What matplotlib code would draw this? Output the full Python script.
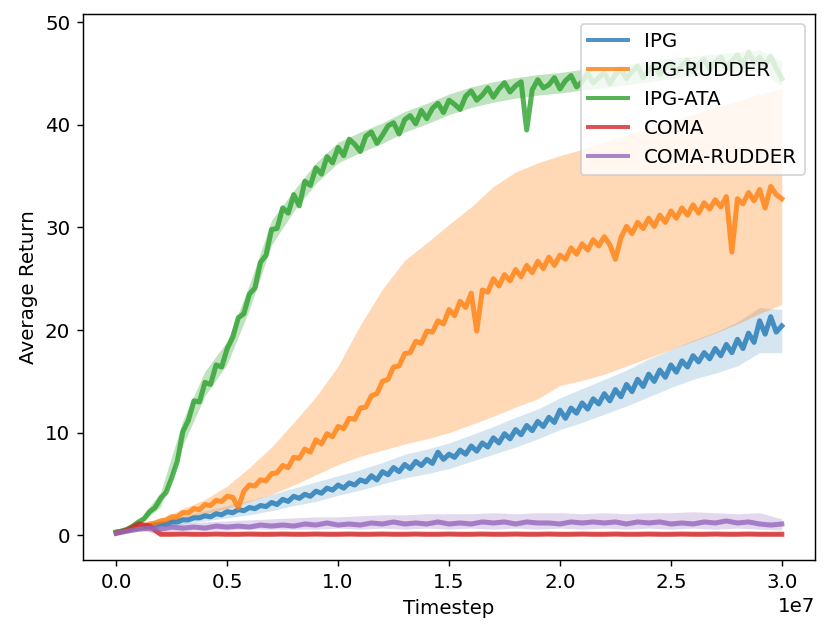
import numpy as np
import matplotlib
matplotlib.use('Agg')
import matplotlib.pyplot as plt

plt.rcParams['font.size'] = 11

# timestep grid is 0 .. 3e7, each series evenly logged over that span
t_max = 3e7

ipg = [0.3, 0.4, 0.5, 0.6, 0.7, 0.8, 0.9, 1.0, 1.1, 1.1,
       1.3, 1.3, 1.5, 1.5, 1.7, 1.7, 1.9, 1.8, 2.1, 2.0,
       2.3, 2.2, 2.5, 2.4, 2.7, 2.6, 2.9, 2.8, 3.2, 3.0,
       3.5, 3.3, 3.8, 3.6, 4.0, 3.8, 4.3, 4.1, 4.6, 4.4,
       4.9, 4.6, 5.1, 4.9, 5.4, 5.2, 5.8, 5.4, 6.2, 5.9,
       6.6, 6.2, 6.9, 6.5, 7.2, 6.8, 7.4, 7.0, 8.1, 7.4,
       7.9, 7.6, 8.3, 7.9, 8.7, 8.2, 9.0, 8.6, 9.5, 9.0,
       9.9, 9.4, 10.3, 9.8, 10.7, 10.2, 11.1, 10.6, 11.5, 11.0,
       12.2, 11.4, 12.4, 11.9, 12.9, 12.3, 13.3, 12.8, 13.8, 13.1,
       14.2, 13.5, 14.7, 14.0, 15.2, 14.5, 15.7, 15.0, 16.1, 15.4,
       16.6, 15.9, 17.0, 16.4, 17.5, 16.9, 17.8, 17.2, 18.2, 17.5,
       18.6, 17.8, 19.1, 18.2, 19.7, 18.8, 20.9, 19.6, 21.3, 19.8,
       20.4]

ipg_rudder = [0.3, 0.4, 0.5, 0.7, 0.8, 0.9, 1.1, 1.2, 1.4, 1.5,
              1.8, 1.8, 2.2, 2.2, 2.6, 2.5, 3.0, 2.9, 3.4, 3.3,
              3.8, 3.7, 2.7, 4.3, 4.9, 4.8, 5.4, 5.3, 6.0, 6.1,
              6.8, 6.6, 7.6, 7.5, 8.4, 8.1, 9.3, 8.9, 9.9, 9.6,
              10.6, 10.4, 11.4, 11.3, 12.4, 12.5, 13.6, 13.8, 15.0, 15.2,
              16.4, 16.5, 17.7, 17.8, 18.9, 18.7, 19.9, 19.8, 20.9, 20.6,
              22.0, 21.4, 22.8, 22.2, 23.6, 19.9, 23.9, 23.7, 25.0, 24.3,
              25.4, 24.8, 25.9, 25.2, 26.3, 25.6, 26.7, 26.0, 27.1, 26.3,
              27.3, 26.9, 28.0, 27.4, 28.4, 27.8, 28.8, 28.2, 29.1, 28.3,
              26.9, 29.0, 30.1, 29.4, 30.5, 29.9, 30.9, 30.1, 31.2, 30.5,
              31.6, 30.9, 31.9, 31.2, 32.2, 31.4, 32.4, 31.8, 32.7, 32.0,
              33.0, 27.6, 32.8, 32.3, 33.4, 32.6, 33.7, 31.9, 34.0, 33.2,
              32.8]

ipg_ata = [0.3, 0.4, 0.6, 0.9, 1.3, 1.6, 2.3, 2.7, 3.6, 4.2,
           5.6, 7.2, 10.1, 11.2, 13.1, 13.0, 14.9, 14.7, 16.6, 16.4,
           18.2, 19.3, 21.2, 21.6, 23.5, 24.1, 26.6, 27.3, 29.8, 29.9,
           31.9, 31.4, 33.2, 32.1, 34.5, 34.1, 35.8, 35.2, 36.9, 36.3,
           37.8, 37.0, 38.6, 38.1, 37.4, 38.9, 39.3, 38.2, 39.0, 39.9,
           40.2, 39.1, 40.5, 40.9, 40.1, 41.4, 40.6, 41.6, 42.1, 41.2,
           42.4, 42.0, 41.5, 42.8, 43.3, 42.4, 42.9, 43.6, 42.7, 43.5,
           44.1, 43.2, 43.8, 44.2, 39.5, 43.4, 44.4, 43.6, 43.9, 44.6,
           43.5, 44.3, 44.8, 43.7, 44.2, 45.0, 44.1, 44.6, 45.1, 44.0,
           44.9, 45.4, 44.5, 45.2, 45.7, 44.6, 45.3, 45.9, 44.9, 45.6,
           46.0, 45.1, 45.8, 46.3, 45.2, 45.9, 46.4, 45.4, 46.1, 46.6,
           45.5, 46.2, 46.8, 45.7, 47.1, 46.0, 46.6, 45.8, 46.7, 45.5,
           44.5]

coma = [0.2, 0.5, 1.1, 0.9, 0.1, 0.1, 0.12, 0.1, 0.1, 0.12,
        0.1, 0.1, 0.12, 0.1, 0.1, 0.12, 0.1, 0.1, 0.12, 0.1,
        0.1, 0.12, 0.1, 0.1, 0.12, 0.1, 0.1, 0.12, 0.1, 0.1,
        0.12, 0.1, 0.1, 0.12, 0.1, 0.1, 0.12, 0.1, 0.1, 0.12,
        0.1, 0.1, 0.12, 0.1, 0.1, 0.12, 0.1, 0.1, 0.12, 0.1,
        0.1, 0.12, 0.1, 0.1, 0.12, 0.1, 0.1, 0.12, 0.1, 0.1,
        0.1]

coma_rudder = [0.2, 0.4, 0.6, 0.7, 0.6, 0.8, 0.7, 0.8, 0.7, 0.9,
               0.8, 0.9, 0.8, 1.0, 0.9, 1.0, 0.9, 1.1, 1.0, 1.2,
               1.0, 1.1, 1.0, 1.2, 1.1, 1.3, 1.1, 1.2, 1.1, 1.3,
               1.1, 1.2, 1.1, 1.3, 1.2, 1.3, 1.1, 1.3, 1.2, 1.2,
               1.1, 1.3, 1.2, 1.3, 1.2, 1.3, 1.1, 1.3, 1.2, 1.3,
               1.1, 1.2, 1.1, 1.3, 1.2, 1.4, 1.2, 1.3, 1.1, 1.0,
               1.1]

# spread across seeds, logged every 1e6 steps
ipg_lo = [0.2, 0.5, 0.8, 1.1, 1.4, 1.7, 2.0, 2.4, 2.9, 3.3, 3.9, 4.4, 5.0, 5.6, 6.0, 6.5,
          7.2, 7.9, 8.6, 9.4, 10.3, 11.0, 11.8, 12.6, 13.5, 14.4, 15.2, 15.8, 16.5, 17.8, 17.8]
ipg_hi = [0.4, 0.9, 1.4, 1.9, 2.4, 2.9, 3.4, 4.0, 4.6, 5.2, 5.8, 6.4, 7.1, 7.9, 8.4, 9.0,
          9.8, 10.6, 11.5, 12.3, 13.4, 14.3, 15.2, 16.1, 17.2, 18.1, 19.0, 19.8, 20.8, 22.2, 22.0]
rudder_lo = [0.2, 0.6, 1.0, 1.6, 2.1, 2.6, 3.3, 4.0, 4.9, 5.9, 6.9, 7.7, 8.3, 8.9, 9.4, 10.0,
             10.8, 11.6, 12.5, 13.3, 14.6, 15.1, 15.7, 16.5, 17.3, 18.1, 18.9, 19.7, 20.6, 21.6, 22.5]
rudder_hi = [0.4, 1.0, 1.6, 2.6, 3.5, 4.8, 6.6, 8.6, 11.0, 13.5, 16.5, 20.5, 24.0, 26.8, 28.5, 30.3,
             32.0, 34.0, 35.4, 36.3, 37.0, 37.6, 38.3, 39.0, 39.7, 40.4, 41.0, 41.7, 42.3, 43.0, 43.5]
ata_lo = [0.2, 1.0, 2.8, 8.8, 13.6, 16.7, 22.0, 28.3, 31.6, 34.3, 36.3, 37.3, 38.2, 39.3, 40.1, 41.0,
          41.7, 42.2, 42.6, 42.9, 43.1, 43.4, 43.6, 43.9, 44.2, 44.5, 44.7, 44.9, 45.1, 45.3, 43.8]
ata_hi = [0.4, 1.4, 4.2, 11.2, 16.0, 18.9, 24.4, 30.7, 33.6, 36.3, 38.3, 39.3, 40.2, 41.3, 42.1, 43.0,
          43.7, 44.2, 44.6, 44.9, 45.1, 45.4, 45.6, 45.9, 46.2, 46.5, 46.7, 46.9, 47.1, 47.3, 46.2]
coma_lo = [0.1, 0.7, 0.0, 0.0, 0.0, 0.0, 0.0, 0.0, 0.0, 0.0, 0.0, 0.0, 0.0, 0.0, 0.0, 0.0,
           0.0, 0.0, 0.0, 0.0, 0.0, 0.0, 0.0, 0.0, 0.0, 0.0, 0.0, 0.0, 0.0, 0.0, 0.0]
coma_hi = [0.3, 1.5, 0.3, 0.3, 0.3, 0.3, 0.3, 0.3, 0.3, 0.3, 0.3, 0.3, 0.3, 0.3, 0.3, 0.3,
           0.3, 0.3, 0.3, 0.3, 0.3, 0.3, 0.3, 0.3, 0.3, 0.3, 0.3, 0.3, 0.3, 0.3, 0.3]
crud_lo = [0.1, 0.4, 0.4, 0.5, 0.5, 0.5, 0.6, 0.6, 0.6, 0.6, 0.7, 0.6, 0.7, 0.6, 0.7, 0.6,
           0.7, 0.6, 0.7, 0.6, 0.7, 0.6, 0.7, 0.6, 0.7, 0.6, 0.7, 0.6, 0.7, 0.6, 0.5]
crud_hi = [0.3, 0.9, 1.0, 1.2, 1.3, 1.4, 1.5, 1.6, 1.7, 1.8, 1.8, 1.9, 2.0, 2.0, 2.1, 2.1,
           2.1, 2.2, 2.1, 2.2, 2.2, 2.1, 2.2, 2.1, 2.2, 2.2, 2.3, 2.2, 2.1, 2.2, 1.6]

labels = ['IPG', 'IPG-RUDDER', 'IPG-ATA', 'COMA', 'COMA-RUDDER']
colors = ['tab:blue', 'tab:orange', 'tab:green', 'tab:red', 'tab:purple']
band_alpha = [0.18, 0.3, 0.3, 0.3, 0.25]
means = [ipg, ipg_rudder, ipg_ata, coma, coma_rudder]
bands = [(ipg_lo, ipg_hi), (rudder_lo, rudder_hi), (ata_lo, ata_hi),
         (coma_lo, coma_hi), (crud_lo, crud_hi)]

fig = plt.figure(figsize=(830/130, 637/130), dpi=130)
ax = fig.add_axes([0.100, 0.121, 0.882, 0.857])

for (lo, hi), c, a in zip(bands, colors, band_alpha):
    tb = np.linspace(0, t_max, len(lo))
    ax.fill_between(tb, lo, hi, color=c, alpha=a, linewidth=0, zorder=1)

for m, c, lab in zip(means, colors, labels):
    t = np.linspace(0, t_max, len(m))
    ax.plot(t, m, color=c, alpha=0.8, linewidth=2.8, label=lab, zorder=2)

ax.set_ylim(-2.4, 50.8)
ax.set_xlabel('Timestep')
ax.set_ylabel('Average Return')
leg = ax.legend(loc='upper right')
for h in leg.get_lines():
    h.set_linewidth(2.2)

fig.savefig('out.png', dpi=130)
